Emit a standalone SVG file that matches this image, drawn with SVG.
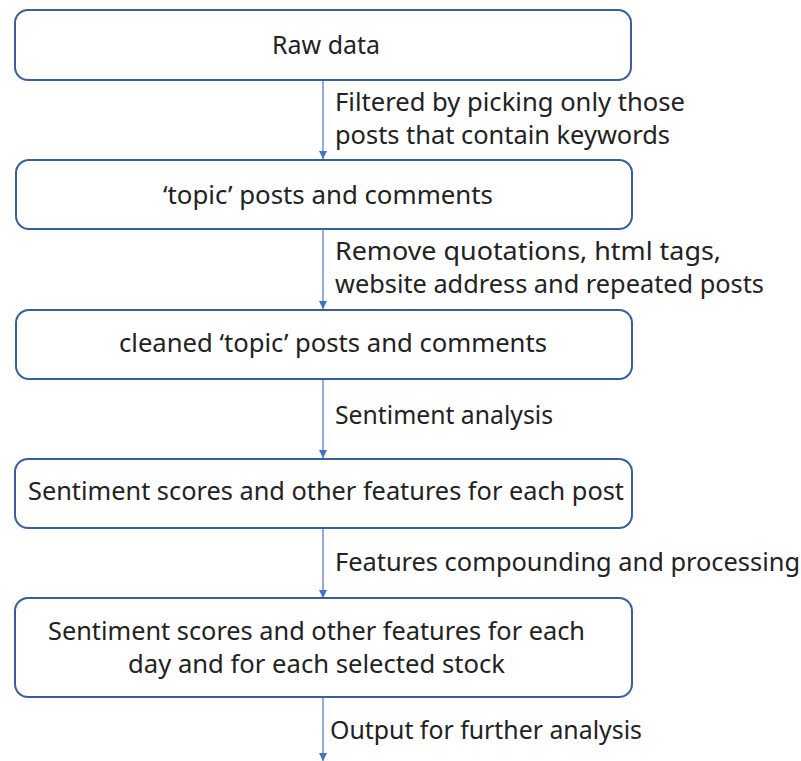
<svg xmlns="http://www.w3.org/2000/svg" width="801" height="761" viewBox="0 0 801 761">
<defs>
<marker id="ah" viewBox="0 0 10 10" refX="10" refY="5" markerWidth="8" markerHeight="8" markerUnits="userSpaceOnUse" orient="auto">
<path d="M0,0 L10,5 L0,10 Z" fill="#4472C4"/>
</marker>
<style>
.box{fill:#fff;stroke:#3A5D9C;stroke-width:2}
.t{font-family:"Noto Sans","Open Sans",sans-serif;font-size:25px;fill:#222}
.c{text-anchor:middle}
.ln{stroke:#6F93D3;stroke-width:1.5;fill:none;marker-end:url(#ah)}
</style>
</defs>
<rect width="801" height="761" fill="#fff"/>
<g id="connectors">
<line class="ln" x1="323" y1="80" x2="323" y2="159"/>
<line class="ln" x1="323" y1="229" x2="323" y2="309"/>
<line class="ln" x1="323" y1="379" x2="323" y2="458"/>
<line class="ln" x1="323" y1="528" x2="323" y2="598"/>
<line class="ln" x1="323" y1="697" x2="323" y2="761"/>
<text class="t" x="335" y="111" textLength="350" lengthAdjust="spacingAndGlyphs">Filtered by picking only those</text>
<text class="t" x="335" y="144" textLength="335" lengthAdjust="spacingAndGlyphs">posts that contain keywords</text>
<text class="t" x="335" y="260" textLength="386" lengthAdjust="spacingAndGlyphs">Remove quotations, html tags,</text>
<text class="t" x="335" y="293" textLength="429" lengthAdjust="spacingAndGlyphs">website address and repeated posts</text>
<text class="t" x="335" y="424" textLength="218" lengthAdjust="spacingAndGlyphs">Sentiment analysis</text>
<text class="t" x="335" y="571" textLength="465" lengthAdjust="spacingAndGlyphs">Features compounding and processing</text>
<text class="t" x="330" y="739" textLength="312" lengthAdjust="spacingAndGlyphs">Output for further analysis</text>
</g>
<g id="n1"><rect class="box" x="15" y="10" width="616" height="70" rx="13"/><text class="t c" x="326" y="54" textLength="108" lengthAdjust="spacingAndGlyphs">Raw data</text></g>
<g id="n2"><rect class="box" x="16" y="160" width="616" height="69" rx="13"/><text class="t c" x="328" y="204" textLength="330" lengthAdjust="spacingAndGlyphs">‘topic’ posts and comments</text></g>
<g id="n3"><rect class="box" x="16" y="310" width="616" height="69" rx="13"/><text class="t c" x="333" y="352" textLength="428" lengthAdjust="spacingAndGlyphs">cleaned ‘topic’ posts and comments</text></g>
<g id="n4"><rect class="box" x="15" y="459" width="617" height="69" rx="13"/><text class="t c" x="326" y="500" textLength="596" lengthAdjust="spacingAndGlyphs">Sentiment scores and other features for each post</text></g>
<g id="n5"><rect class="box" x="15" y="598" width="617" height="99" rx="13"/><text class="t c" x="316.5" y="640" textLength="537" lengthAdjust="spacingAndGlyphs">Sentiment scores and other features for each</text><text class="t c" x="316.5" y="673" textLength="377" lengthAdjust="spacingAndGlyphs">day and for each selected stock</text></g>
</svg>
